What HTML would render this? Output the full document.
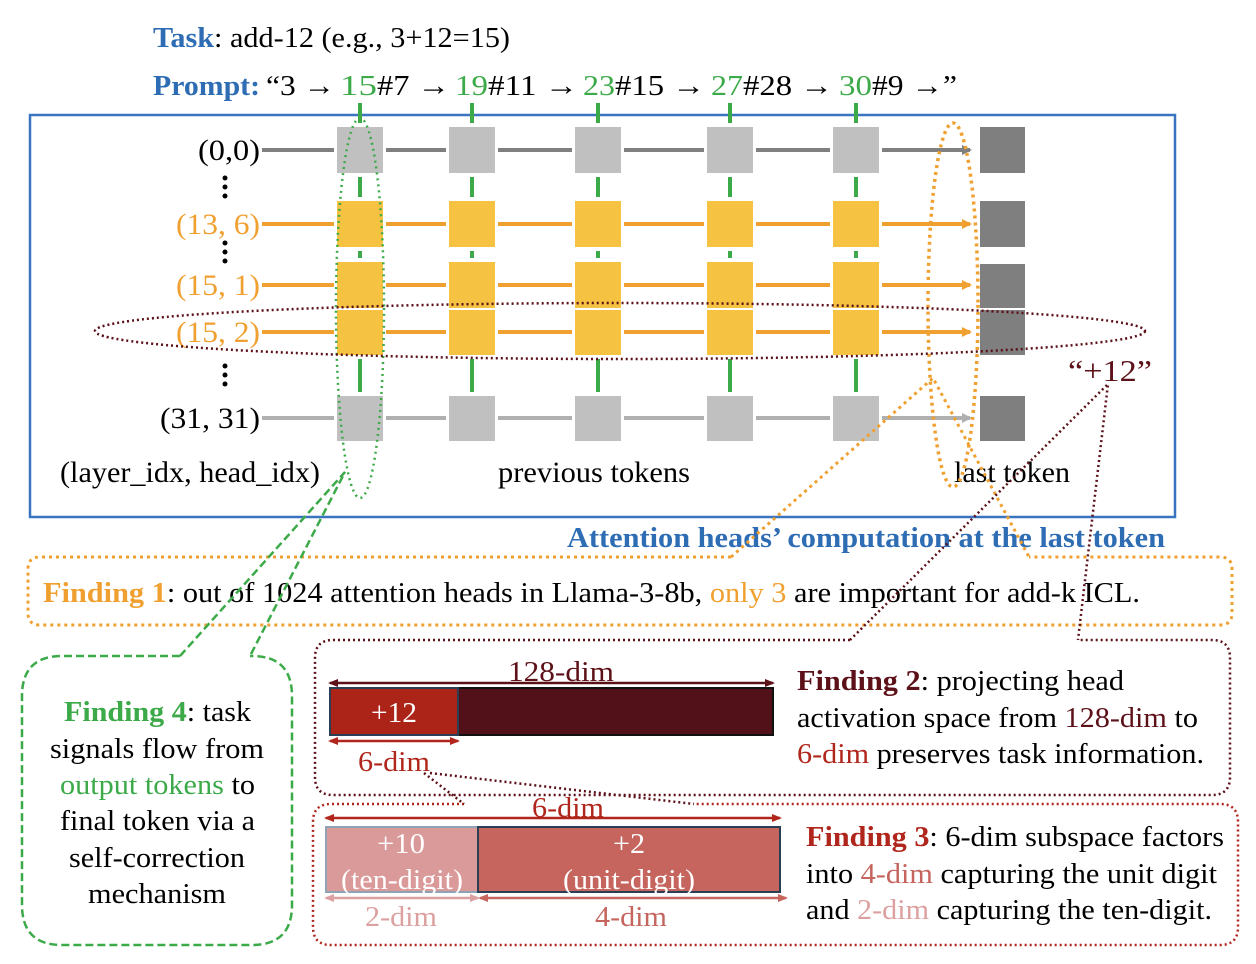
<!DOCTYPE html>
<html><head><meta charset="utf-8"><style>
html,body{margin:0;padding:0;background:#fff}
svg{display:block;font-family:"Liberation Serif",serif}
</style></head><body>
<svg width="1256" height="964" viewBox="0 0 1256 964" xmlns="http://www.w3.org/2000/svg">
<defs>
<marker id="ag" markerWidth="10" markerHeight="10" refX="8" refY="5" orient="auto" markerUnits="userSpaceOnUse"><path d="M0,0 L10,5 L0,10z" fill="#808080"/></marker>
<marker id="ao" markerWidth="10" markerHeight="10" refX="8" refY="5" orient="auto" markerUnits="userSpaceOnUse"><path d="M0,0 L10,5 L0,10z" fill="#F0A030"/></marker>
<marker id="al" markerWidth="10" markerHeight="10" refX="8" refY="5" orient="auto" markerUnits="userSpaceOnUse"><path d="M0,0 L10,5 L0,10z" fill="#B0B0B0"/></marker>
<marker id="am" markerWidth="10" markerHeight="10" refX="8" refY="5" orient="auto-start-reverse" markerUnits="userSpaceOnUse"><path d="M0,1 L10,5 L0,9z" fill="#5C1018"/></marker>
<marker id="ar" markerWidth="10" markerHeight="10" refX="8" refY="5" orient="auto-start-reverse" markerUnits="userSpaceOnUse"><path d="M0,1 L10,5 L0,9z" fill="#B0261C"/></marker>
<marker id="ap" markerWidth="10" markerHeight="10" refX="8" refY="5" orient="auto-start-reverse" markerUnits="userSpaceOnUse"><path d="M0,1 L10,5 L0,9z" fill="#DDA0A0"/></marker>
<marker id="ac" markerWidth="10" markerHeight="10" refX="8" refY="5" orient="auto-start-reverse" markerUnits="userSpaceOnUse"><path d="M0,1 L10,5 L0,9z" fill="#C5655E"/></marker>
</defs>
<g font-size="29">
<text x="153" y="47" textLength="357" lengthAdjust="spacingAndGlyphs"><tspan fill="#2E6DB4" font-weight="bold">Task</tspan>: add-12 (e.g., 3+12=15)</text>
<text x="153" y="95" fill="#2E6DB4" font-weight="bold" textLength="107" lengthAdjust="spacingAndGlyphs">Prompt:</text>
<text x="266" y="95" textLength="69" lengthAdjust="spacingAndGlyphs">“3 →</text>
<text x="340" y="95" fill="#3DAA4A" textLength="37" lengthAdjust="spacingAndGlyphs">15</text><text x="377" y="95" textLength="73" lengthAdjust="spacingAndGlyphs">#7 →</text>
<text x="455" y="95" fill="#3DAA4A" textLength="33" lengthAdjust="spacingAndGlyphs">19</text><text x="488" y="95" textLength="90" lengthAdjust="spacingAndGlyphs">#11 →</text>
<text x="583" y="95" fill="#3DAA4A" textLength="32" lengthAdjust="spacingAndGlyphs">23</text><text x="615" y="95" textLength="90" lengthAdjust="spacingAndGlyphs">#15 →</text>
<text x="711" y="95" fill="#3DAA4A" textLength="32" lengthAdjust="spacingAndGlyphs">27</text><text x="743" y="95" textLength="90" lengthAdjust="spacingAndGlyphs">#28 →</text>
<text x="839" y="95" fill="#3DAA4A" textLength="33" lengthAdjust="spacingAndGlyphs">30</text><text x="872" y="95" textLength="85" lengthAdjust="spacingAndGlyphs">#9 →”</text>
</g>

<rect x="30" y="115" width="1145" height="402" fill="none" stroke="#3A74C0" stroke-width="2.5"/>

<g stroke="#3DAA4A" stroke-width="4">
<line x1="360" y1="103" x2="360" y2="396"/><line x1="472" y1="103" x2="472" y2="396"/>
<line x1="598" y1="103" x2="598" y2="396"/><line x1="730" y1="103" x2="730" y2="396"/>
<line x1="856" y1="103" x2="856" y2="396"/>
</g>
<g stroke-width="4">
<line x1="262" y1="150" x2="970" y2="150" stroke="#808080" marker-end="url(#ag)"/>
<line x1="262" y1="224" x2="970" y2="224" stroke="#F0A030" marker-end="url(#ao)"/>
<line x1="262" y1="285" x2="970" y2="285" stroke="#F0A030" marker-end="url(#ao)"/>
<line x1="262" y1="332" x2="970" y2="332" stroke="#F0A030" marker-end="url(#ao)"/>
<line x1="262" y1="418" x2="970" y2="418" stroke="#B0B0B0" marker-end="url(#al)"/>
</g>
<g fill="#fff">
<rect x="334" y="123" width="52" height="54"/><rect x="446" y="123" width="52" height="54"/><rect x="572" y="123" width="52" height="54"/><rect x="704" y="123" width="52" height="54"/><rect x="830" y="123" width="52" height="54"/>
<rect x="334" y="197" width="52" height="54"/><rect x="446" y="197" width="52" height="54"/><rect x="572" y="197" width="52" height="54"/><rect x="704" y="197" width="52" height="54"/><rect x="830" y="197" width="52" height="54"/>
<rect x="334" y="258" width="52" height="101"/><rect x="446" y="258" width="52" height="101"/><rect x="572" y="258" width="52" height="101"/><rect x="704" y="258" width="52" height="101"/><rect x="830" y="258" width="52" height="101"/>
<rect x="334" y="392" width="52" height="53"/><rect x="446" y="392" width="52" height="53"/><rect x="572" y="392" width="52" height="53"/><rect x="704" y="392" width="52" height="53"/><rect x="830" y="392" width="52" height="53"/>
</g>
<g>
<g fill="#C0C0C0"><rect x="337" y="127" width="46" height="46"/><rect x="449" y="127" width="46" height="46"/><rect x="575" y="127" width="46" height="46"/><rect x="707" y="127" width="46" height="46"/><rect x="833" y="127" width="46" height="46"/></g>
<g fill="#F5C242"><rect x="337" y="201" width="46" height="46"/><rect x="449" y="201" width="46" height="46"/><rect x="575" y="201" width="46" height="46"/><rect x="707" y="201" width="46" height="46"/><rect x="833" y="201" width="46" height="46"/></g>
<g fill="#F5C242"><rect x="337" y="262" width="46" height="46"/><rect x="449" y="262" width="46" height="46"/><rect x="575" y="262" width="46" height="46"/><rect x="707" y="262" width="46" height="46"/><rect x="833" y="262" width="46" height="46"/></g>
<g fill="#F5C242"><rect x="337" y="310" width="46" height="45"/><rect x="449" y="310" width="46" height="45"/><rect x="575" y="310" width="46" height="45"/><rect x="707" y="310" width="46" height="45"/><rect x="833" y="310" width="46" height="45"/></g>
<g fill="#C0C0C0"><rect x="337" y="396" width="46" height="45"/><rect x="449" y="396" width="46" height="45"/><rect x="575" y="396" width="46" height="45"/><rect x="707" y="396" width="46" height="45"/><rect x="833" y="396" width="46" height="45"/></g>
<g fill="#7F7F7F"><rect x="980" y="127" width="45" height="46"/><rect x="980" y="201" width="45" height="46"/><rect x="980" y="264" width="45" height="44"/><rect x="980" y="310" width="45" height="45"/><rect x="980" y="396" width="45" height="45"/></g>
</g>

<g font-size="30">
<text x="198" y="160" textLength="62" lengthAdjust="spacingAndGlyphs">(0,0)</text>
<text x="176" y="234" fill="#F0A030" textLength="84" lengthAdjust="spacingAndGlyphs">(13, 6)</text>
<text x="176" y="295" fill="#F0A030" textLength="84" lengthAdjust="spacingAndGlyphs">(15, 1)</text>
<text x="176" y="342" fill="#F0A030" textLength="84" lengthAdjust="spacingAndGlyphs">(15, 2)</text>
<text x="160" y="428" textLength="100" lengthAdjust="spacingAndGlyphs">(31, 31)</text>
<text x="60" y="482" textLength="260" lengthAdjust="spacingAndGlyphs">(layer_idx, head_idx)</text>
<text x="498" y="482" textLength="192" lengthAdjust="spacingAndGlyphs">previous tokens</text>
<text x="954" y="482" textLength="116" lengthAdjust="spacingAndGlyphs">last token</text>
</g>
<g fill="#000"><circle cx="225" cy="178" r="2.5"/><circle cx="225" cy="187" r="2.5"/><circle cx="225" cy="196" r="2.5"/>
<circle cx="225" cy="243" r="2.5"/><circle cx="225" cy="252" r="2.5"/><circle cx="225" cy="261" r="2.5"/>
<circle cx="225" cy="366" r="2.5"/><circle cx="225" cy="375" r="2.5"/><circle cx="225" cy="384" r="2.5"/></g>

<ellipse cx="360" cy="308" rx="24" ry="190" fill="none" stroke="#3DAA4A" stroke-width="2.5" stroke-dasharray="2 4"/>
<ellipse cx="953" cy="305" rx="25" ry="182" fill="none" stroke="#F0A030" stroke-width="3.5" stroke-dasharray="3 4"/>
<ellipse cx="620" cy="331" rx="525" ry="28" fill="none" stroke="#5C1018" stroke-width="2.5" stroke-dasharray="2 3"/>
<text x="1068" y="381" font-size="31" fill="#5C1018" textLength="84" lengthAdjust="spacingAndGlyphs">“+12”</text>

<text x="567" y="547" font-size="29" font-weight="bold" fill="#2E6DB4" textLength="598" lengthAdjust="spacingAndGlyphs">Attention heads’ computation at the last token</text>

<path d="M731,557 H40 Q28,557 28,569 V613 Q28,625 40,625 H1220 Q1232,625 1232,613 V569 Q1232,557 1220,557 H1029" fill="none" stroke="#F0A030" stroke-width="3" stroke-dasharray="3 4"/>
<path d="M731,557 L933,378 L1029,557" fill="none" stroke="#F0A030" stroke-width="3" stroke-dasharray="3 4"/>
<text x="43" y="602" font-size="29" textLength="1097" lengthAdjust="spacingAndGlyphs"><tspan fill="#F0A030" font-weight="bold">Finding 1</tspan>: out of 1024 attention heads in Llama-3-8b, <tspan fill="#F0A030">only 3</tspan> are important for add-k ICL.</text>

<path d="M850,640 H333 Q315,640 315,658 V777 Q315,795 333,795 H1212 Q1230,795 1230,777 V658 Q1230,640 1212,640 H1078" fill="none" stroke="#5C1018" stroke-width="2.5" stroke-dasharray="2 3"/>
<path d="M850,640 L1108,384 L1078,640" fill="none" stroke="#5C1018" stroke-width="2.5" stroke-dasharray="2 3"/>
<line x1="330" y1="683" x2="773" y2="683" stroke="#5C1018" stroke-width="2.5" marker-start="url(#am)" marker-end="url(#am)"/>
<text x="508" y="681" font-size="29" fill="#5C1018" textLength="106" lengthAdjust="spacingAndGlyphs">128-dim</text>
<rect x="330" y="688" width="443" height="47" fill="#521018" stroke="#111" stroke-width="2"/>
<rect x="330" y="688" width="128" height="47" fill="#AC2418" stroke="#2A3F55" stroke-width="2"/>
<text x="371" y="722" font-size="29" fill="#fff" textLength="46" lengthAdjust="spacingAndGlyphs">+12</text>
<line x1="330" y1="741" x2="458" y2="741" stroke="#B0261C" stroke-width="2.5" marker-start="url(#ar)" marker-end="url(#ar)"/>
<text x="358" y="771" font-size="29" fill="#B0261C" textLength="72" lengthAdjust="spacingAndGlyphs">6-dim</text>
<g font-size="29">
<text x="797" y="690" textLength="327" lengthAdjust="spacingAndGlyphs"><tspan fill="#5C1018" font-weight="bold">Finding 2</tspan>: projecting head</text>
<text x="797" y="727" textLength="401" lengthAdjust="spacingAndGlyphs">activation space from <tspan fill="#5C1018">128-dim</tspan> to</text>
<text x="797" y="763" textLength="407" lengthAdjust="spacingAndGlyphs"><tspan fill="#B0261C">6-dim</tspan> preserves task information.</text>
</g>

<path d="M464,804 H331 Q313,804 313,822 V927 Q313,945 331,945 H1220 Q1238,945 1238,927 V822 Q1238,804 1220,804 H694" fill="none" stroke="#B0261C" stroke-width="2.5" stroke-dasharray="2 3"/>
<path d="M424,773 L464,804 M430,773 L694,804" fill="none" stroke="#5C1018" stroke-width="2.5" stroke-dasharray="2 3"/>
<line x1="326" y1="818" x2="780" y2="818" stroke="#B0261C" stroke-width="2.5" marker-start="url(#ar)" marker-end="url(#ar)"/>
<text x="532" y="817" font-size="29" fill="#B0261C" textLength="72" lengthAdjust="spacingAndGlyphs">6-dim</text>
<rect x="326" y="827" width="152" height="65" fill="#DA9A99" stroke="#8FA3B5" stroke-width="2"/>
<rect x="478" y="827" width="302" height="65" fill="#C5655E" stroke="#2A3F55" stroke-width="2"/>
<g font-size="29" fill="#fff">
<text x="377" y="853" textLength="48" lengthAdjust="spacingAndGlyphs">+10</text>
<text x="341" y="889" textLength="122" lengthAdjust="spacingAndGlyphs">(ten-digit)</text>
<text x="613" y="853" textLength="32" lengthAdjust="spacingAndGlyphs">+2</text>
<text x="563" y="889" textLength="132" lengthAdjust="spacingAndGlyphs">(unit-digit)</text>
</g>
<line x1="326" y1="898" x2="478" y2="898" stroke="#DDA0A0" stroke-width="2.5" marker-start="url(#ap)" marker-end="url(#ap)"/>
<line x1="480" y1="898" x2="786" y2="898" stroke="#C5655E" stroke-width="2.5" marker-start="url(#ac)" marker-end="url(#ac)"/>
<text x="365" y="926" font-size="29" fill="#DDA0A0" textLength="72" lengthAdjust="spacingAndGlyphs">2-dim</text>
<text x="595" y="926" font-size="29" fill="#C5655E" textLength="72" lengthAdjust="spacingAndGlyphs">4-dim</text>
<g font-size="29">
<text x="806" y="846" textLength="418" lengthAdjust="spacingAndGlyphs"><tspan fill="#B0261C" font-weight="bold">Finding 3</tspan>: 6-dim subspace factors</text>
<text x="806" y="883" textLength="411" lengthAdjust="spacingAndGlyphs">into <tspan fill="#C5655E">4-dim</tspan> capturing the unit digit</text>
<text x="806" y="919" textLength="406" lengthAdjust="spacingAndGlyphs">and <tspan fill="#DDA0A0">2-dim</tspan> capturing the ten-digit.</text>
</g>

<path d="M180,656 H62 Q22,656 22,696 V905 Q22,945 62,945 H252 Q292,945 292,905 V696 Q292,656 252,656 H250" fill="none" stroke="#3DAA4A" stroke-width="2.5" stroke-dasharray="8 4"/>
<path d="M180,656 L345,472 L250,656" fill="none" stroke="#3DAA4A" stroke-width="2.5" stroke-dasharray="8 4"/>
<g font-size="29">
<text x="64" y="721" textLength="187" lengthAdjust="spacingAndGlyphs"><tspan fill="#3DAA4A" font-weight="bold">Finding 4</tspan>: task</text>
<text x="50" y="758" textLength="214" lengthAdjust="spacingAndGlyphs">signals flow from</text>
<text x="60" y="794" textLength="195" lengthAdjust="spacingAndGlyphs"><tspan fill="#3DAA4A">output tokens</tspan> to</text>
<text x="60" y="830" textLength="195" lengthAdjust="spacingAndGlyphs">final token via a</text>
<text x="69" y="867" textLength="176" lengthAdjust="spacingAndGlyphs">self-correction</text>
<text x="88" y="903" textLength="138" lengthAdjust="spacingAndGlyphs">mechanism</text>
</g>
</svg>
</body></html>
